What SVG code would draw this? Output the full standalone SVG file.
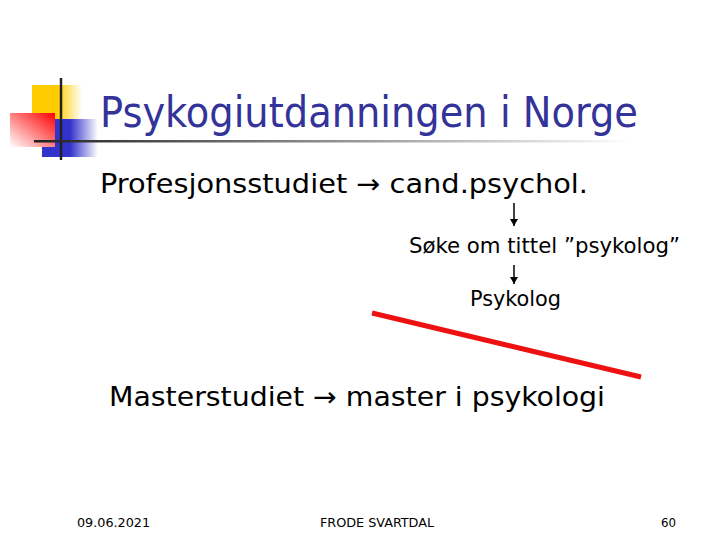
<svg xmlns="http://www.w3.org/2000/svg" width="720" height="540" viewBox="0 0 720 540">
<defs>
<linearGradient id="gy" x1="0" y1="0" x2="1" y2="0"><stop offset="0" stop-color="#ffcc00"/><stop offset="0.5" stop-color="#ffcc00"/><stop offset="1" stop-color="#ffcc00" stop-opacity="0"/></linearGradient>
<linearGradient id="gr" x1="0" y1="1" x2="1" y2="0"><stop offset="0" stop-color="#ffffff"/><stop offset="1" stop-color="#ff0000"/></linearGradient>
<linearGradient id="gb" x1="0" y1="0" x2="1" y2="0"><stop offset="0" stop-color="#3333cc"/><stop offset="0.5" stop-color="#3333cc"/><stop offset="1" stop-color="#3333cc" stop-opacity="0"/></linearGradient>
<linearGradient id="gl" x1="0" y1="0" x2="1" y2="0"><stop offset="0" stop-color="#222222"/><stop offset="1" stop-color="#ffffff"/></linearGradient>
<marker id="ah" markerWidth="8" markerHeight="8" refX="7" refY="4" orient="auto" markerUnits="userSpaceOnUse"><path d="M0,0 L7,4 L0,8 z" fill="#000"/></marker>
<style>
.t{font-family:"DejaVu Sans Condensed","DejaVu Sans","Liberation Sans",sans-serif;fill:#000}
.f{font-family:"DejaVu Sans Condensed","DejaVu Sans","Liberation Sans",sans-serif;font-size:12px;fill:#000}
</style>
</defs>
<g id="logo">
<rect x="32" y="85" width="50" height="34" fill="url(#gy)"/>
<rect x="42" y="119" width="56" height="38" fill="url(#gb)"/>
<rect x="10" y="113" width="45" height="34" fill="url(#gr)"/>
<line x1="61" y1="78" x2="61" y2="160" stroke="#222" stroke-width="2.5"/>
<rect x="34" y="140" width="600" height="2.5" fill="url(#gl)"/>
</g>
<g id="title"><text x="100" y="127" class="t" font-size="43" style="fill:#333399" textLength="538" lengthAdjust="spacingAndGlyphs">Psykogiutdanningen i Norge</text></g>
<g id="prof"><text x="100" y="193" class="t" font-size="27" textLength="488" lengthAdjust="spacingAndGlyphs">Profesjonsstudiet → cand.psychol.</text></g>
<g id="soke"><text x="409" y="253" class="t" font-size="22" textLength="271" lengthAdjust="spacingAndGlyphs">Søke om tittel ”psykolog”</text></g>
<g id="psykolog"><text x="470" y="306" class="t" font-size="22" textLength="91" lengthAdjust="spacingAndGlyphs">Psykolog</text></g>
<g id="master"><text x="109" y="406" class="t" font-size="27" textLength="496" lengthAdjust="spacingAndGlyphs">Masterstudiet → master i psykologi</text></g>
<g id="connectors">
<line x1="514" y1="203" x2="514" y2="226" stroke="#000" stroke-width="1.5" marker-end="url(#ah)"/>
<line x1="514" y1="265" x2="514" y2="284" stroke="#000" stroke-width="1.5" marker-end="url(#ah)"/>
<line x1="372" y1="313" x2="641" y2="377" stroke="#ee1111" stroke-width="5"/>
</g>
<g id="footer">
<text x="77" y="527" class="f" textLength="73" lengthAdjust="spacingAndGlyphs">09.06.2021</text>
<text x="320" y="527" class="f" textLength="114" lengthAdjust="spacingAndGlyphs">FRODE SVARTDAL</text>
<text x="661" y="527" class="f" textLength="15" lengthAdjust="spacingAndGlyphs">60</text>
</g>
</svg>
